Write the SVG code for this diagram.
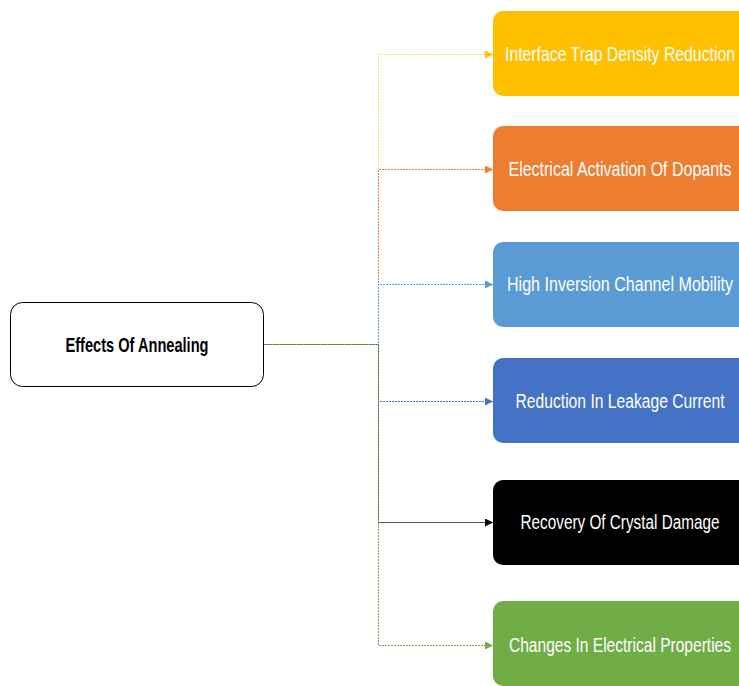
<svg xmlns="http://www.w3.org/2000/svg" width="739" height="686" viewBox="0 0 739 686">
  <style>
    .node-label { font-family: "Liberation Sans", Arial, sans-serif; font-size: 15.5px; fill: #ffffff; text-anchor: middle; dominant-baseline: central; }
    .root-label { font-family: "Liberation Sans", Arial, sans-serif; font-size: 21px; font-weight: bold; fill: #000000; text-anchor: middle; dominant-baseline: central; }
    .link { fill: none; stroke-width: 1; stroke-dasharray: 2 1; }
  </style>
  <defs>
    <!-- effect box: rounded on the left, running to the right edge -->
    <path id="effect-box" d="M10,0 H246 V85 H10 A10,10 0 0 1 0,75 V10 A10,10 0 0 1 10,0 Z"/>
    <marker id="arr-yellow" viewBox="0 0 8 8" refX="8" refY="4" markerWidth="8" markerHeight="8" markerUnits="userSpaceOnUse" orient="auto"><path d="M0,0 L8,4 L0,8 z" fill="#FFC000"/></marker>
    <marker id="arr-orange" viewBox="0 0 8 8" refX="8" refY="4" markerWidth="8" markerHeight="8" markerUnits="userSpaceOnUse" orient="auto"><path d="M0,0 L8,4 L0,8 z" fill="#ED7D31"/></marker>
    <marker id="arr-sky" viewBox="0 0 8 8" refX="8" refY="4" markerWidth="8" markerHeight="8" markerUnits="userSpaceOnUse" orient="auto"><path d="M0,0 L8,4 L0,8 z" fill="#5B9BD5"/></marker>
    <marker id="arr-blue" viewBox="0 0 8 8" refX="8" refY="4" markerWidth="8" markerHeight="8" markerUnits="userSpaceOnUse" orient="auto"><path d="M0,0 L8,4 L0,8 z" fill="#4472C4"/></marker>
    <marker id="arr-black" viewBox="0 0 8 8" refX="8" refY="4" markerWidth="8" markerHeight="8" markerUnits="userSpaceOnUse" orient="auto"><path d="M0,0 L8,4 L0,8 z" fill="#000000"/></marker>
    <marker id="arr-green" viewBox="0 0 8 8" refX="8" refY="4" markerWidth="8" markerHeight="8" markerUnits="userSpaceOnUse" orient="auto"><path d="M0,0 L8,4 L0,8 z" fill="#70AD47"/></marker>
  </defs>

  <rect width="739" height="686" fill="#ffffff"/>

  <!-- elbow connectors from the root to each effect -->
  <g id="connectors">
    <path class="link" d="M263,344.5 H378.5 V54.5 H493" stroke="#FFD966" marker-end="url(#arr-yellow)"/>
    <path class="link" d="M263,344.5 H378.5 V169.5 H493" stroke="#ED7D31" marker-end="url(#arr-orange)"/>
    <path class="link" d="M263,344.5 H378.5 V284.5 H493" stroke="#5B9BD5" marker-end="url(#arr-sky)"/>
    <path class="link" d="M263,344.5 H378.5 V401.5 H493" stroke="#4472C4" marker-end="url(#arr-blue)"/>
    <path d="M263,344.5 H378.5 V522.5 H493" fill="none" stroke="#555555" stroke-width="1" marker-end="url(#arr-black)"/>
    <path class="link" d="M263,344.5 H378.5 V645.5 H493" stroke="#70AD47" marker-end="url(#arr-green)"/>
  </g>

  <g id="root">
    <rect x="10.5" y="302.5" width="253" height="84" rx="12" fill="#ffffff" stroke="#000000" stroke-width="1"/>
    <text class="root-label" x="137" y="344" textLength="143" lengthAdjust="spacingAndGlyphs">Effects Of Annealing</text>
  </g>

  <!-- labels are set in a tall, narrow face: scaled 1.25 vertically about their centre -->
  <g id="interface-trap">
    <use href="#effect-box" x="493" y="11" fill="#FFC000"/>
    <text class="node-label" transform="translate(620,54) scale(1,1.25)" textLength="230" lengthAdjust="spacingAndGlyphs">Interface Trap Density Reduction</text>
  </g>

  <g id="dopant-activation">
    <use href="#effect-box" x="493" y="126" fill="#ED7D31"/>
    <text class="node-label" transform="translate(620,169) scale(1,1.25)" textLength="223" lengthAdjust="spacingAndGlyphs">Electrical Activation Of Dopants</text>
  </g>

  <g id="channel-mobility">
    <use href="#effect-box" x="493" y="242" fill="#5B9BD5"/>
    <text class="node-label" transform="translate(620,284) scale(1,1.25)" textLength="226" lengthAdjust="spacingAndGlyphs">High Inversion Channel Mobility</text>
  </g>

  <g id="leakage-current">
    <use href="#effect-box" x="493" y="358" fill="#4472C4"/>
    <text class="node-label" transform="translate(620,401) scale(1,1.25)" textLength="209" lengthAdjust="spacingAndGlyphs">Reduction In Leakage Current</text>
  </g>

  <g id="crystal-damage">
    <use href="#effect-box" x="493" y="480" fill="#000000"/>
    <text class="node-label" transform="translate(620,522) scale(1,1.25)" textLength="199" lengthAdjust="spacingAndGlyphs">Recovery Of Crystal Damage</text>
  </g>

  <g id="electrical-properties">
    <use href="#effect-box" x="493" y="601" fill="#70AD47"/>
    <text class="node-label" transform="translate(620,645) scale(1,1.25)" textLength="222" lengthAdjust="spacingAndGlyphs">Changes In Electrical Properties</text>
  </g>
</svg>
